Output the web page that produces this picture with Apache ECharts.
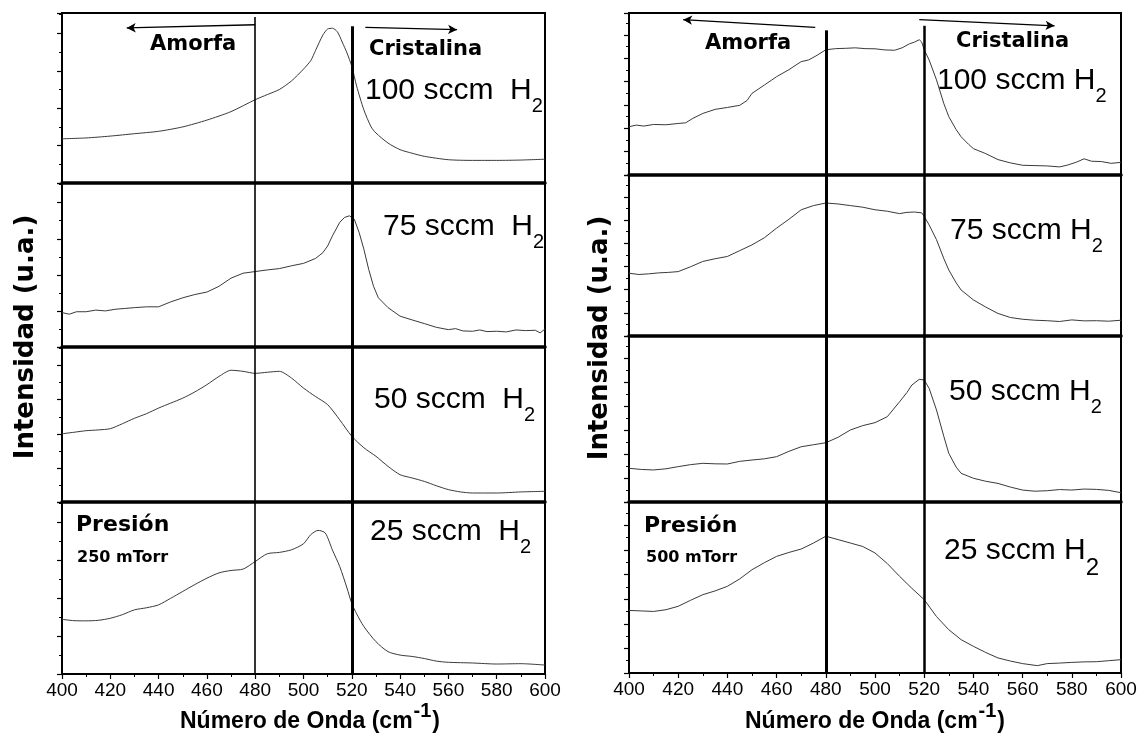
<!DOCTYPE html>
<html><head><meta charset="utf-8">
<script src="https://cdn.jsdelivr.net/npm/echarts@6/dist/echarts.min.js"></script>
<style>html,body{margin:0;padding:0;background:#fff}#c{width:1140px;height:733px}</style>
</head><body><div id="c"></div><script>
// ---- data (intensity in arbitrary units, 0-100 per sub-panel) ----
const xTickLabels = [400,420,440,460,480,500,520,540,560,580,600];
const refLines = [480, 520];
const panelLabels = ['100 sccm', '75 sccm', '50 sccm', '25 sccm'];

const left100 = [[400,26],[410,26.5],[420,27.6],[430,29],[440,30.4],[450,33],[460,37],[470,42],[480,49],[485,52],[490,55],[495,60],[500,67],[503,72],[505,78],[508,87],[510,90.6],[512,91],[514,89],[516,83],[518,76.5],[520,68.6],[522,57],[525,43],[528,33],[530,29.4],[535,23.5],[540,19.6],[545,17.5],[550,15.7],[560,13.7],[570,13.3],[580,13.3],[590,13.5],[600,14]];
const left75 = [[400,21],[403,20],[406,21.5],[410,21.5],[414,22.5],[418,22],[422,23],[426,23.5],[430,24],[435,24.5],[440,24.5],[445,27.5],[450,30],[455,32],[460,33.5],[465,37],[470,42],[475,45],[480,46],[485,47],[490,47.8],[495,49.5],[500,51],[505,54],[508,57.5],[510,61.6],[512,67.8],[515,76],[517,79],[519,80],[521,78],[523,70],[525,59.6],[527,47.3],[529,37],[531,30],[535,24],[540,18.8],[545,16.5],[550,14.3],[555,12],[560,10.6],[563,11.2],[566,9.8],[570,9.6],[573,10.4],[576,9.4],[580,9.6],[584,9.2],[588,10.4],[592,10],[596,10.2],[598,8.6],[600,11]];
const left50 = [[400,44],[405,45],[410,46],[415,46.5],[420,47.3],[425,50.5],[430,54],[435,57],[440,60.6],[445,63.8],[450,67],[455,71],[460,75.7],[465,81],[470,85],[475,84.3],[480,83],[485,83.7],[490,84.3],[495,80],[500,73.5],[505,68],[510,62.8],[515,53],[520,42.4],[525,35],[530,29.5],[535,23],[540,17.6],[545,15.5],[550,13.3],[555,10.5],[560,8],[565,6.5],[570,5.8],[580,5.8],[590,6.5],[600,6.9]];
const left25 = [[400,31.8],[405,31],[410,30.9],[415,31.2],[420,32.4],[425,34.5],[430,37.3],[435,38.5],[440,40.2],[445,44],[450,48],[455,52],[460,55.7],[465,58.8],[470,60.2],[475,61],[480,65.4],[485,69.9],[490,70.7],[495,72.2],[500,75.7],[503,81],[506,83.5],[509,82],[512,72],[515,62.5],[518,50],[520,41],[522,35],[525,27.6],[530,18.8],[535,13],[540,11],[545,10.2],[550,9],[555,7.5],[560,6.8],[570,6.4],[580,5.8],[590,6],[600,5.2]];

const right100 = [[400,29.8],[403,30.8],[406,30.2],[410,31.2],[415,31],[420,31.8],[423,32.2],[426,35],[430,38],[435,40.5],[440,41.7],[445,43],[448,46],[450,50.4],[455,55.5],[460,60.7],[465,65],[470,70],[473,71],[476,73.5],[480,77.3],[484,78],[488,78.2],[492,78.5],[496,78],[500,77.9],[504,77.2],[508,77],[511,78.5],[514,81],[516,82],[518,83.5],[519,82],[520,77.3],[522,71],[525,58.7],[528,44],[530,36],[533,28],[535,23.6],[538,19],[540,16.3],[545,13.2],[550,9.5],[555,7.5],[560,6],[565,5.8],[570,5.6],[575,5],[578,6],[582,8],[585,10],[588,8.5],[592,8.3],[596,7.2],[600,7.8]];
const right75 = [[400,39],[404,38.2],[408,38.6],[412,39.2],[416,39.5],[420,40],[425,43],[430,46.3],[435,48],[440,49.4],[445,53],[450,56.6],[455,61],[460,67],[465,72.5],[470,78.4],[475,81],[480,82.6],[485,82],[490,81],[495,80],[500,78.4],[505,77.5],[510,76],[513,76.8],[516,77],[519,76.5],[520,74.3],[522,69],[525,59.8],[528,48],[530,41],[533,33],[535,28.6],[540,22.4],[545,18],[550,14],[555,11.5],[560,10.4],[565,9.8],[570,9.5],[575,9],[580,10],[585,9.4],[590,9.5],[595,9.2],[600,9.8]];
const right50 = [[400,20.3],[405,19.6],[410,19.3],[415,20],[420,21.3],[425,22.5],[430,23.3],[435,23],[440,22.9],[445,24.5],[450,25.3],[455,26],[460,27.3],[465,30.5],[470,33.3],[475,34.5],[480,35.7],[485,39],[490,43.4],[495,46],[500,47.8],[505,51.4],[510,60.4],[513,66],[515,70.5],[518,73.9],[520,73.5],[522,68.5],[525,55.4],[528,39.4],[530,29.3],[533,21],[535,17.3],[540,14.3],[545,12.5],[550,11.2],[555,9],[560,7.2],[565,6.5],[570,6.8],[575,7.5],[580,7.2],[585,7.8],[590,7.6],[595,7],[600,5.6]];
const right25 = [[400,36.6],[405,36.3],[410,36],[415,37],[420,39],[425,42.5],[430,45.8],[435,48],[440,50.7],[445,55],[450,60.4],[455,64.5],[460,68.2],[465,70.5],[470,72.5],[475,76],[480,80],[485,78],[490,76],[495,74],[500,70.2],[505,64],[510,56.5],[515,49.5],[520,42.9],[525,33],[530,25.3],[535,19.5],[540,15.6],[545,12],[550,8.8],[555,7],[560,5.5],[566,4.3],[570,5.5],[575,5.8],[580,6.2],[585,6.5],[590,6.6],[595,7.2],[600,7.8]];

// annotation geometry in data units (top panels)
const leftTopLineStart = [97.6, 92.2];
const rightTopLineStart = [89.3, 92.1];
const leftArrows = [[[480,93.1],[426.8,91.2]], [[525.6,91.6],[563.6,90.2]]];
const rightArrows = [[[475.7,91.1],[422,95.9]], [[518,95.9],[573,92.1]]];

// ---- layout ----
const L = {left: 62, width: 483, tops: [13,183,347,502], heights: [170,164,155,172], yInt: 22, lineW: [1.6, 3]};
const R = {left: 629, width: 492, tops: [13,175,336,502], heights: [162,161,166,171], yInt: 14.4, lineW: [3, 2.5]};
const sides = [
  {lay: L, data: [left100, left75, left50, left25], smooth: [0.25, false, 0.25, 0.25], start: leftTopLineStart, arrows: leftArrows},
  {lay: R, data: [right100, right75, right50, right25], smooth: [false, false, false, false], start: rightTopLineStart, arrows: rightArrows}
];

const grids = [], xAxes = [], yAxes = [], series = [];
let gi = 0;
sides.forEach(side => {
  const lay = side.lay;
  for (let p = 0; p < 4; p++) {
    const bottom = p === 3;
    grids.push({left: lay.left, top: lay.tops[p], width: lay.width, height: lay.heights[p], show: true, borderColor: '#000', borderWidth: 2, backgroundColor: 'transparent'});
    xAxes.push({gridIndex: gi, type: 'value', min: 400, max: 600, interval: 20,
      axisLine: {show: true, onZero: false, lineStyle: {color: '#000', width: bottom ? 2 : 3.5}},
      axisTick: {show: bottom, length: 5, lineStyle: {color: '#000', width: 1.2}},
      minorTick: {show: bottom, splitNumber: 2, length: 3, lineStyle: {color: '#000', width: 1}},
      axisLabel: {show: bottom, color: '#000', fontSize: 19, fontFamily: 'Liberation Sans', margin: 7,
        formatter: v => xTickLabels.indexOf(v) >= 0 ? String(v) : ''},
      splitLine: {show: false}});
    yAxes.push({gridIndex: gi, type: 'value', min: 0, max: 100, interval: lay.yInt,
      axisLine: {show: true, onZero: false, lineStyle: {color: '#000', width: 2}},
      axisTick: {show: true, length: 5, lineStyle: {color: '#000', width: 1.2}},
      minorTick: {show: true, splitNumber: 2, length: 3, lineStyle: {color: '#000', width: 1}},
      axisLabel: {show: false}, splitLine: {show: false}});
    const ml = [];
    refLines.forEach((xv, k) => {
      const ls = {color: '#000', width: lay.lineW[k], type: 'solid'};
      if (p === 0) ml.push([{coord: [xv, side.start[k]], lineStyle: ls}, {coord: [xv, 0]}]);
      else ml.push({xAxis: xv, lineStyle: ls});
    });
    if (p === 0) side.arrows.forEach(a => {
      ml.push([{coord: a[0], symbol: 'none', lineStyle: {color: '#000', width: 1.3, type: 'solid'}}, {coord: a[1], symbol: 'arrow', symbolSize: [7, 9]}]);
    });
    series.push({type: 'line', xAxisIndex: gi, yAxisIndex: gi, data: side.data[p], showSymbol: false,
      smooth: side.smooth[p], lineStyle: {color: '#3a3a3a', width: 1},
      markLine: {silent: true, symbol: ['none', 'none'], label: {show: false}, animation: false, data: ml}});
    gi++;
  }
});

function sccmText(x, capY, main, subSize) {
  return {type: 'text', x: x, y: capY - 15, silent: true, style: {
    text: '{a|' + main + '}{s|2}', verticalAlign: 'top', align: 'left', fill: '#000',
    rich: {a: {fontSize: 30, lineHeight: 30, fontFamily: 'Liberation Sans', verticalAlign: 'top', fill: '#000'},
           s: {fontSize: subSize || 20, lineHeight: 20, fontFamily: 'Liberation Sans', verticalAlign: 'top', padding: [20, 0, 0, 0], fill: '#000'}}}};
}
function boldText(x, y, txt, size) {
  return {type: 'text', x: x, y: y, silent: true, style: {text: txt, fontSize: size, fontWeight: 'bold', fontFamily: 'DejaVu Sans', fill: '#000', align: 'left', verticalAlign: 'middle'}};
}
function xTitle(cx, cy) {
  return {type: 'text', x: cx, y: cy, silent: true, style: {
    text: '{t|Número de Onda (cm}{s|-1}{t|)}', align: 'center', verticalAlign: 'middle', fill: '#000',
    rich: {t: {fontSize: 23, lineHeight: 23, fontWeight: 'bold', fontFamily: 'Liberation Sans', verticalAlign: 'top', padding: [9, 0, 0, 0], fill: '#000'},
           s: {fontSize: 20, lineHeight: 20, fontWeight: 'bold', fontFamily: 'Liberation Sans', verticalAlign: 'top', padding: [0, 1, 0, 1], fill: '#000'}}}};
}
function yTitle(cx, cy) {
  return {type: 'text', x: cx, y: cy, rotation: Math.PI / 2, silent: true, style: {
    text: 'Intensidad (u.a.)', fontSize: 26, fontWeight: 'bold', fontFamily: 'DejaVu Sans', fill: '#000', align: 'center', verticalAlign: 'middle'}};
}

const graphics = [
  boldText(150, 45, 'Amorfa', 21), boldText(369, 50, 'Cristalina', 21),
  boldText(705, 44, 'Amorfa', 21), boldText(956, 42, 'Cristalina', 21),
  sccmText(365, 91, panelLabels[0] + '  H'), sccmText(383, 227, panelLabels[1] + '  H'),
  sccmText(374, 400, panelLabels[2] + '  H'), sccmText(370, 532, panelLabels[3] + '  H'),
  sccmText(937, 81, panelLabels[0] + ' H'), sccmText(950, 231, panelLabels[1] + ' H'),
  sccmText(949, 392, panelLabels[2] + ' H'), sccmText(944, 551, panelLabels[3] + ' H', 24),
  boldText(76, 525, 'Presión', 22), boldText(77, 558, '250 mTorr', 16),
  boldText(644, 526, 'Presión', 22), boldText(646, 558, '500 mTorr', 16),
  xTitle(310, 713), xTitle(875, 713),
  yTitle(26, 337), yTitle(600, 338)
];

const chart = echarts.init(document.getElementById('c'), null, {renderer: 'canvas'});
chart.setOption({animation: false, backgroundColor: '#fff', grid: grids, xAxis: xAxes, yAxis: yAxes, series: series, graphic: graphics});
</script></body></html>
